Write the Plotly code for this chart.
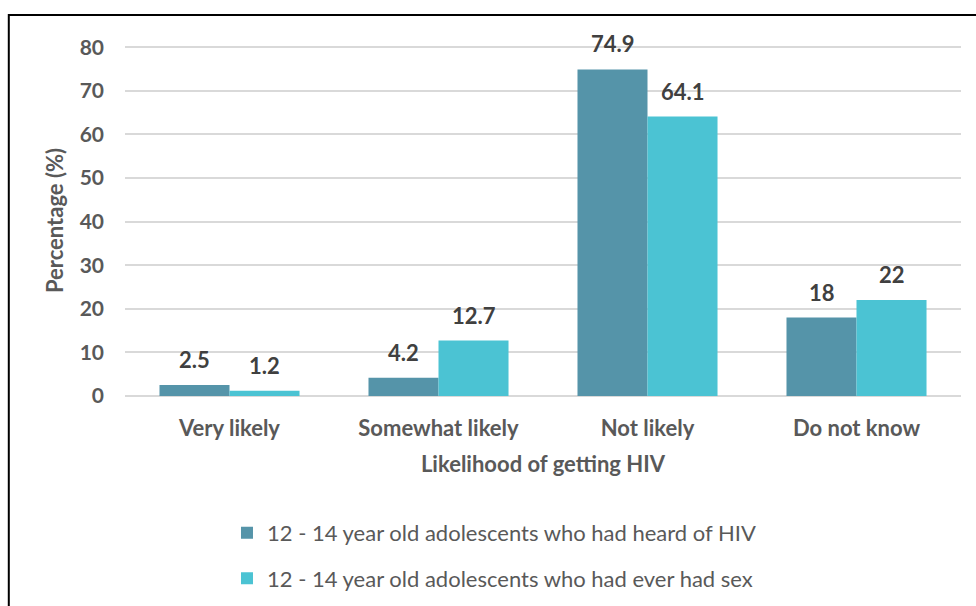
import plotly.graph_objects as go

categories = ["Very likely", "Somewhat likely", "Not likely", "Do not know"]
heard_hiv = [2.5, 4.2, 74.9, 18]
had_sex = [1.2, 12.7, 64.1, 22]
heard_labels = ["2.5", "4.2", "74.9", "18"]
sex_labels = ["1.2", "12.7", "64.1", "22"]
series_names = ["12 - 14 year old adolescents who had heard of HIV",
                "12 - 14 year old adolescents who had ever had sex"]
colors = ["#5594A9", "#4BC3D3"]
y_ticks = [0, 10, 20, 30, 40, 50, 60, 70, 80]

FONT = "Lato"
fig = go.Figure()
fig.add_trace(go.Bar(x=categories, y=heard_hiv, name=series_names[0], legendgroup="g1",
                     marker=dict(color=colors[0], line=dict(width=0))))
fig.add_trace(go.Bar(x=categories, y=had_sex, name=series_names[1], legendgroup="g2",
                     marker=dict(color=colors[1], line=dict(width=0))))

for vals, labs, shift in [(heard_hiv, heard_labels, -35), (had_sex, sex_labels, 35)]:
    for c, v, t in zip(categories, vals, labs):
        fig.add_annotation(x=c, y=v, text="<b>%s</b>" % t, showarrow=False,
                           xshift=shift, yshift=10, yanchor="bottom",
                           font=dict(family=FONT, size=22, color="#404040"))

fig.add_shape(type="rect", xref="paper", yref="paper",
              x0=-0.139, x1=1.2, y0=-1.0, y1=1.0855,
              line=dict(color="black", width=2), fillcolor="rgba(0,0,0,0)", layer="above")

fig.update_layout(
    width=976, height=606,
    margin=dict(l=125, r=15, t=45, b=210, autoexpand=False),
    paper_bgcolor="white", plot_bgcolor="white",
    barmode="group", bargap=0.33, bargroupgap=0,
    font=dict(family=FONT, color="#595959"),
    showlegend=True,
    legend=dict(orientation="v", x=0.122, xanchor="left", y=-0.33, yanchor="top",
                font=dict(family=FONT, size=22, color="#595959"),
                tracegroupgap=14, itemwidth=30, traceorder="grouped"),
    xaxis=dict(title=dict(text="<b>Likelihood of getting HIV</b>",
                          font=dict(family=FONT, size=22, color="#595959"), standoff=16),
               tickfont=dict(family=FONT, size=22, color="#595959"),
               tickvals=categories, ticktext=["<b>%s</b>" % c for c in categories],
               showline=False, ticks="", showgrid=False, ticklabelstandoff=17),
    yaxis=dict(title=dict(text="<b>Percentage (%)</b>",
                          font=dict(family=FONT, size=22, color="#595959"), standoff=9),
               range=[0, 80.5], tickvals=y_ticks,
               ticktext=["<b>%d</b>" % v for v in y_ticks],
               tickfont=dict(family=FONT, size=21, color="#595959"),
               showgrid=True, gridcolor="#D9D9D9", gridwidth=2,
               zeroline=True, zerolinecolor="#D9D9D9", zerolinewidth=2,
               ticks="", ticklabelstandoff=20),
)
fig.write_html("out.html")
